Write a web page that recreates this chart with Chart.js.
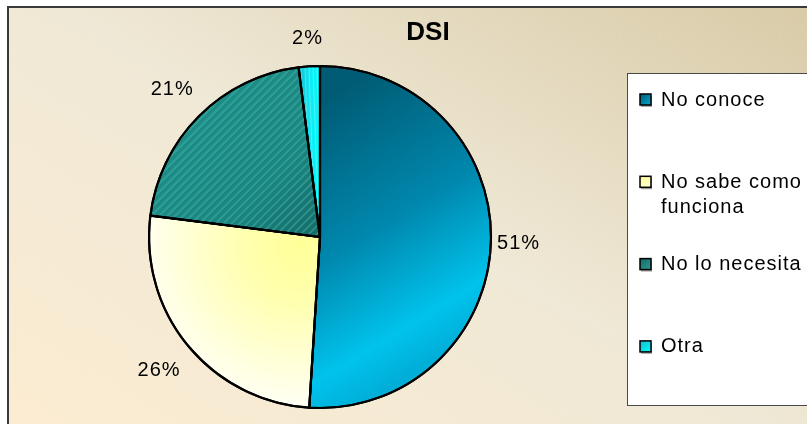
<!DOCTYPE html>
<html>
<head>
<meta charset="utf-8">
<title>DSI</title>
<script src="https://cdn.jsdelivr.net/npm/chart.js@4/dist/chart.umd.min.js"></script>
<style>
  html, body { margin: 0; padding: 0; background: #fff; overflow: hidden; }
  #wrap { position: relative; width: 807px; height: 424px; }
</style>
</head>
<body>
<div id="wrap"><canvas id="c" width="807" height="424"></canvas></div>
<script>
// Survey answers: why the DSI service is not used
const chartTitle = 'DSI';
const categories = ['No conoce', 'No sabe como funciona', 'No lo necesita', 'Otra'];
const legendLines = [['No conoce'], ['No sabe como', 'funciona'], ['No lo necesita'], ['Otra']];
const percentages = [51, 26, 21, 2];

const FONT = '"Liberation Sans", Arial, Helvetica, sans-serif';

// Slice fills, built around the pie's centre and radius
function sliceFill(ctx) {
  const chart = ctx.chart;
  const a = chart.chartArea;
  if (!a) return '#888';
  const c = chart.ctx;
  const cx = (a.left + a.right) / 2, cy = (a.top + a.bottom) / 2;
  const r = Math.min(a.right - a.left, a.bottom - a.top) / 2;
  let g;
  switch (ctx.dataIndex) {
    case 0:
      g = c.createLinearGradient(cx, cy - r * 0.8, cx + r * 0.85, cy + r * 0.6);
      g.addColorStop(0, '#005b74');
      g.addColorStop(0.5, '#0088ae');
      g.addColorStop(0.85, '#00c3ec');
      g.addColorStop(1, '#00aed8');
      return g;
    case 1:
      g = c.createRadialGradient(cx - r * 0.12, cy + r * 0.05, 0, cx - r * 0.12, cy + r * 0.05, r * 0.95);
      g.addColorStop(0, '#ffff98');
      g.addColorStop(0.35, '#ffffb0');
      g.addColorStop(1, '#fffff6');
      return g;
    case 2:
      g = c.createLinearGradient(cx - r * 0.8, cy - r * 0.8, cx, cy);
      g.addColorStop(0, '#1f8f88');
      g.addColorStop(0.6, '#1b857f');
      g.addColorStop(1, '#166a67');
      return g;
    default:
      g = c.createLinearGradient(cx - r * 0.13, 0, cx, 0);
      g.addColorStop(0, '#19b6c8');
      g.addColorStop(0.5, '#10e6f2');
      g.addColorStop(1, '#00ffff');
      return g;
  }
}

const swatches = [
  ['#00a6d0', '#005b74'],
  ['#ffffd8', '#ffff90'],
  ['#2a9a92', '#166a67'],
  ['#00ffff', '#18b8c8']
];

// Backdrop: warm gradient panel with a thin frame
const backdrop = {
  id: 'backdrop',
  beforeDraw(chart) {
    const ctx = chart.ctx, W = chart.width, H = chart.height;
    ctx.save();
    ctx.fillStyle = '#fff';
    ctx.fillRect(0, 0, W, H);
    const g = ctx.createLinearGradient(W, 0, W - 392, 664);
    g.addColorStop(0, '#d6c7a1');
    g.addColorStop(0.5, '#eee7d3');
    g.addColorStop(1, '#fcebcf');
    ctx.fillStyle = g;
    ctx.fillRect(8, 7, W, H);
    ctx.beginPath();
    ctx.rect(8, 7, W, H);
    ctx.clip();
    ctx.strokeStyle = 'rgba(255,255,255,0.16)';
    ctx.lineWidth = 1;
    for (let k = -H * 3; k < W; k += 5) {
      ctx.beginPath();
      ctx.moveTo(k, 0);
      ctx.lineTo(k + H * 2.2, H);
      ctx.stroke();
    }
    ctx.restore();
    ctx.save();
    ctx.strokeStyle = '#3a3a3a';
    ctx.lineWidth = 2;
    ctx.strokeRect(8, 7, W, H);
    ctx.restore();
  }
};

// Hatching on the two small slices, then the outlines again on top
const hatching = {
  id: 'hatching',
  afterDatasetsDraw(chart) {
    const ctx = chart.ctx;
    const arcs = chart.getDatasetMeta(0).data;
    const path = (el) => {
      ctx.beginPath();
      ctx.moveTo(el.x, el.y);
      ctx.arc(el.x, el.y, el.outerRadius, el.startAngle, el.endAngle);
      ctx.closePath();
    };
    ctx.save();
    [2, 3].forEach((i) => {
      const el = arcs[i];
      if (!el) return;
      ctx.save();
      path(el);
      ctx.clip();
      const r = el.outerRadius;
      if (i === 2) {
        ctx.strokeStyle = 'rgba(70,190,180,0.4)';
        ctx.lineWidth = 2;
        for (let k = -2 * r; k < 2 * r; k += 8) {
          ctx.beginPath();
          ctx.moveTo(el.x + k - r, el.y + r);
          ctx.lineTo(el.x + k + r, el.y - r);
          ctx.stroke();
        }
      } else {
        ctx.strokeStyle = 'rgba(255,255,255,0.25)';
        ctx.lineWidth = 1;
        for (let k = -r; k < r; k += 4) {
          ctx.beginPath();
          ctx.moveTo(el.x + k, el.y - r);
          ctx.lineTo(el.x + k + 6, el.y);
          ctx.stroke();
        }
      }
      ctx.restore();
    });
    ctx.strokeStyle = '#000';
    ctx.lineWidth = 2.2;
    ctx.lineJoin = 'round';
    arcs.forEach((el) => { path(el); ctx.stroke(); });
    ctx.restore();
  }
};

// Title, percentage labels and the boxed legend
const annotations = {
  id: 'annotations',
  afterDraw(chart) {
    const ctx = chart.ctx, W = chart.width;
    const arcs = chart.getDatasetMeta(0).data;
    ctx.save();
    ctx.fillStyle = '#000';
    ctx.textBaseline = 'middle';

    ctx.font = 'bold 26px ' + FONT;
    ctx.textAlign = 'center';
    ctx.fillText(chartTitle, 428, 33);

    ctx.letterSpacing = '1px';
    ctx.font = '20px ' + FONT;
    arcs.forEach((el, i) => {
      const mid = (el.startAngle + el.endAngle) / 2;
      // labels sit a little further out on the diagonals
      const d = el.outerRadius + 27 + 11 * Math.abs(Math.sin(2 * mid));
      ctx.fillText(percentages[i] + '%', el.x + Math.cos(mid) * d, el.y + Math.sin(mid) * d);
    });

    // legend box
    const bx = 627, by = 73, bh = 332;
    ctx.fillStyle = '#fff';
    ctx.fillRect(bx, by, W - bx + 4, bh);
    ctx.strokeStyle = '#4a4a4a';
    ctx.lineWidth = 1;
    ctx.strokeRect(bx + 0.5, by + 0.5, W - bx + 4, bh);

    ctx.textAlign = 'left';
    categories.forEach((name, i) => {
      const yc = 100 + i * 82.3;
      const g = ctx.createLinearGradient(640, yc - 6, 651, yc + 5);
      g.addColorStop(0, swatches[i][1]);
      g.addColorStop(1, swatches[i][0]);
      ctx.fillStyle = 'rgba(0,0,0,0.35)';
      ctx.fillRect(641, yc - 4, 11, 11);
      ctx.fillStyle = g;
      ctx.fillRect(640, yc - 6, 11, 11);
      ctx.strokeStyle = '#000';
      ctx.lineWidth = 1.5;
      ctx.strokeRect(640, yc - 6, 11, 11);
      ctx.fillStyle = '#000';
      legendLines[i].forEach((line, j) => {
        ctx.fillText(line, 661, yc + j * 25);
      });
    });
    ctx.restore();
  }
};

new Chart(document.getElementById('c'), {
  type: 'pie',
  data: {
    labels: categories,
    datasets: [{
      data: percentages,
      backgroundColor: sliceFill,
      borderColor: '#000',
      borderWidth: 2,
      hoverOffset: 0
    }]
  },
  options: {
    responsive: false,
    animation: false,
    events: [],
    layout: { padding: { left: 148, right: 315, top: 65, bottom: 15 } },
    plugins: {
      legend: { display: false },
      title: { display: false },
      tooltip: { enabled: false }
    }
  },
  plugins: [backdrop, hatching, annotations]
});
</script>
</body>
</html>
